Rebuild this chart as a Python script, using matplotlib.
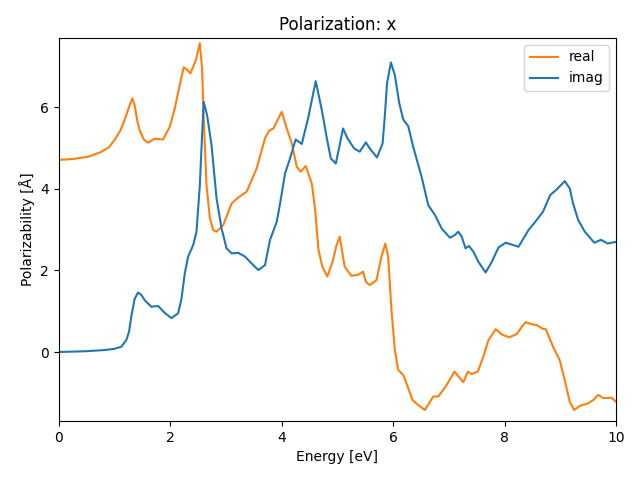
import numpy as np
import matplotlib.pyplot as plt

# values
energy_real = [0.0, 0.25, 0.53, 0.75, 0.9, 1.0, 1.1, 1.18, 1.27, 1.32, 1.36, 1.41, 1.45,
               1.52, 1.60, 1.72, 1.87, 1.99, 2.08, 2.17, 2.24, 2.30, 2.36, 2.46, 2.53,
               2.57, 2.60, 2.65, 2.71, 2.77, 2.83, 2.95, 3.10, 3.22, 3.37, 3.55, 3.70,
               3.77, 3.85, 3.93, 4.0, 4.09, 4.18, 4.27, 4.34, 4.43, 4.54, 4.60, 4.66,
               4.73, 4.82, 4.92, 4.98, 5.04, 5.13, 5.25, 5.37, 5.46, 5.51, 5.58, 5.70,
               5.79, 5.86, 5.91, 5.97, 6.03, 6.09, 6.18, 6.24, 6.35, 6.45, 6.57, 6.72,
               6.81, 6.96, 7.10, 7.26, 7.34, 7.41, 7.52, 7.62, 7.71, 7.84, 7.95, 8.08,
               8.22, 8.31, 8.38, 8.49, 8.58, 8.68, 8.74, 8.87, 8.99, 9.08, 9.17, 9.25,
               9.35, 9.50, 9.59, 9.68, 9.77, 9.92, 10.0]
real = [4.71, 4.73, 4.79, 4.90, 5.02, 5.20, 5.42, 5.69, 6.05, 6.22, 6.05, 5.65, 5.44,
        5.22, 5.13, 5.23, 5.21, 5.52, 5.97, 6.55, 6.98, 6.92, 6.83, 7.16, 7.57,
        6.95, 5.73, 4.09, 3.28, 2.99, 2.95, 3.11, 3.64, 3.79, 3.93, 4.50, 5.24,
        5.42, 5.48, 5.70, 5.89, 5.48, 5.12, 4.54, 4.42, 4.56, 4.13, 3.48, 2.50,
        2.09, 1.85, 2.25, 2.60, 2.83, 2.09, 1.87, 1.89, 1.97, 1.72, 1.64, 1.76,
        2.34, 2.66, 2.34, 1.03, 0.05, -0.44, -0.56, -0.77, -1.18, -1.30, -1.42, -1.09,
        -1.09, -0.81, -0.48, -0.74, -0.48, -0.54, -0.48, -0.11, 0.29, 0.56, 0.43, 0.36,
        0.44, 0.62, 0.73, 0.68, 0.66, 0.57, 0.56, 0.13, -0.20, -0.69, -1.22, -1.42,
        -1.32, -1.26, -1.18, -1.05, -1.13, -1.12, -1.22]

energy_imag = [0.0, 0.5, 0.83, 1.0, 1.12, 1.21, 1.26, 1.30, 1.36, 1.42, 1.48, 1.54, 1.66,
               1.78, 1.90, 2.02, 2.14, 2.20, 2.26, 2.32, 2.41, 2.47, 2.53, 2.57, 2.60,
               2.66, 2.74, 2.83, 2.92, 3.01, 3.10, 3.22, 3.34, 3.49, 3.58, 3.70, 3.79,
               3.91, 3.97, 4.06, 4.15, 4.25, 4.36, 4.48, 4.61, 4.72, 4.81, 4.88, 4.97,
               5.04, 5.10, 5.18, 5.30, 5.40, 5.51, 5.58, 5.71, 5.81, 5.85, 5.89, 5.96,
               6.03, 6.11, 6.18, 6.27, 6.36, 6.51, 6.63, 6.75, 6.87, 7.02, 7.11, 7.17,
               7.23, 7.30, 7.36, 7.44, 7.53, 7.66, 7.77, 7.89, 8.02, 8.16, 8.25, 8.43,
               8.55, 8.69, 8.82, 8.94, 9.08, 9.17, 9.23, 9.32, 9.44, 9.61, 9.73, 9.85,
               10.0]
imag = [0.0, 0.02, 0.05, 0.08, 0.13, 0.29, 0.50, 0.87, 1.30, 1.46, 1.40, 1.27, 1.11,
        1.13, 0.96, 0.83, 0.95, 1.30, 1.93, 2.34, 2.62, 2.95, 4.09, 5.30, 6.13,
        5.81, 5.07, 3.77, 3.03, 2.54, 2.42, 2.43, 2.34, 2.13, 2.01, 2.13, 2.75,
        3.19, 3.64, 4.38, 4.75, 5.21, 5.10, 5.77, 6.64, 5.93, 5.24, 4.75, 4.62,
        5.07, 5.48, 5.24, 4.99, 4.91, 5.14, 4.99, 4.77, 5.11, 5.77, 6.59, 7.10,
        6.79, 6.10, 5.70, 5.54, 5.03, 4.30, 3.60, 3.36, 3.03, 2.80, 2.87, 2.95,
        2.83, 2.54, 2.60, 2.46, 2.21, 1.95, 2.21, 2.56, 2.68, 2.62, 2.58, 2.99,
        3.19, 3.44, 3.85, 3.99, 4.19, 4.01, 3.64, 3.24, 2.95, 2.68, 2.75, 2.66,
        2.70]

fig, ax = plt.subplots(figsize=(6.4, 4.8), dpi=100)
ax.plot(energy_real, real, color='C1', label='real')
ax.plot(energy_imag, imag, color='C0', label='imag')
ax.set_xlim(0, 10)
ax.set_ylim(-1.69, 7.70)
ax.set_xlabel('Energy [eV]')
ax.set_ylabel('Polarizability [Å]')
ax.set_title('Polarization: x')
ax.legend(loc='upper right')
fig.subplots_adjust(left=0.092, right=0.9625, top=0.921, bottom=0.123)
fig.savefig('out.png')
